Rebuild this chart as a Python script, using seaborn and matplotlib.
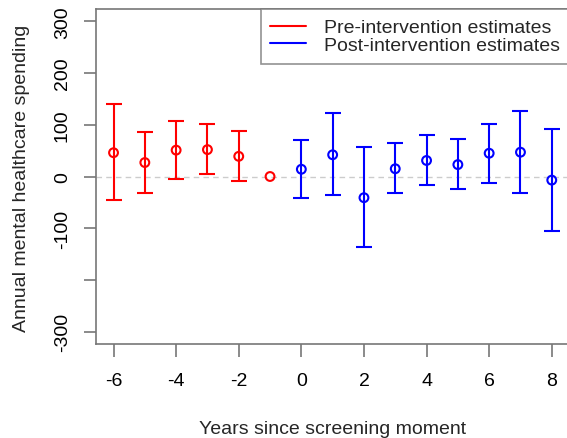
import numpy as np
import matplotlib
matplotlib.use("Agg")
import matplotlib.pyplot as plt
from matplotlib.lines import Line2D
import pandas as pd
import seaborn as sns

# --- Data ---
pre_years = [-6, -5, -4, -3, -2, -1]
pre_est = [46, 27, 51, 52, 39, 0]
pre_lo = [-46, -32, -4, 4, -8, 0]
pre_hi = [140, 86, 107, 101, 88, 0]

post_years = [0, 1, 2, 3, 4, 5, 6, 7, 8]
post_est = [14, 42, -41, 15, 31, 23, 45, 47, -7]
post_lo = [-42, -35, -137, -32, -17, -24, -12, -31, -105]
post_hi = [71, 122, 57, 65, 81, 73, 102, 126, 92]

x_ticks = [-6, -4, -2, 0, 2, 4, 6, 8]
y_ticks = [-300, -200, -100, 0, 100, 200, 300]
y_ticklabels = ["-300", "", "-100", "0", "100", "200", "300"]

pre_df = pd.DataFrame({"year": pre_years, "est": pre_est, "lo": pre_lo, "hi": pre_hi})
post_df = pd.DataFrame({"year": post_years, "est": post_est, "lo": post_lo, "hi": post_hi})

sns.set_theme(style="ticks")
plt.rcParams['font.family'] = ['Liberation Sans', 'DejaVu Sans']
FS = 14

fig = plt.figure(figsize=(5.67, 4.39), dpi=100)
ax = fig.add_axes([96 / 567, 1 - 345 / 439, 473.3 / 567, 335 / 439])

ax.axhline(0, color='#cccccc', lw=1, ls=(0, (4, 3)), zorder=0)

# error bars (the reference year -1 has no interval)
for df, col in [(pre_df[pre_df.lo != pre_df.hi], 'red'), (post_df, 'blue')]:
    ax.errorbar(df.year, df.est, yerr=[df.est - df.lo, df.hi - df.est],
                fmt='none', ecolor=col, elinewidth=1.5, capsize=6, capthick=1.5)

sns.scatterplot(data=pre_df, x='year', y='est', ax=ax, marker='o', s=40,
                facecolor='none', edgecolor='red', linewidth=1.5, zorder=3)
sns.scatterplot(data=post_df, x='year', y='est', ax=ax, marker='o', s=40,
                facecolor='none', edgecolor='blue', linewidth=1.5, zorder=3)

ax.set_xlim(-6.56, 8.56)
ax.set_ylim(-324, 324)
ax.set_xticks(x_ticks)
ax.set_xticklabels([str(t) for t in x_ticks])
ax.set_yticks(y_ticks)
ax.set_yticklabels(y_ticklabels, rotation=90, va='center')

for s in ax.spines.values():
    s.set_visible(True)
    s.set_color('#777777')
    s.set_linewidth(1.2)
ax.tick_params(axis='both', which='both', direction='out', length=9, width=1.2,
               color='#777777', labelsize=FS, labelcolor='black',
               bottom=True, left=True, top=False, right=False)
ax.tick_params(axis='x', pad=11)
ax.tick_params(axis='y', pad=9)

ax.set_xlabel('Years since screening moment', fontsize=FS)
ax.set_ylabel('Annual mental healthcare spending', fontsize=FS)
ax.xaxis.set_label_coords(0.499, -0.228)
ax.yaxis.set_label_coords(-0.14, 0.4985)

handles = [Line2D([0], [0], color='red', lw=1.5), Line2D([0], [0], color='blue', lw=1.5)]
leg = ax.legend(handles, ['Pre-intervention estimates', 'Post-intervention estimates'],
                loc='upper right', bbox_to_anchor=(1.0, 1.0), fontsize=FS,
                frameon=True, fancybox=False, borderaxespad=0, handlelength=1.85,
                handletextpad=0.88, labelspacing=0.0, borderpad=0.5)
leg.get_frame().set_edgecolor('#777777')
leg.get_frame().set_linewidth(1.2)

fig.savefig('out.png', dpi=100)
